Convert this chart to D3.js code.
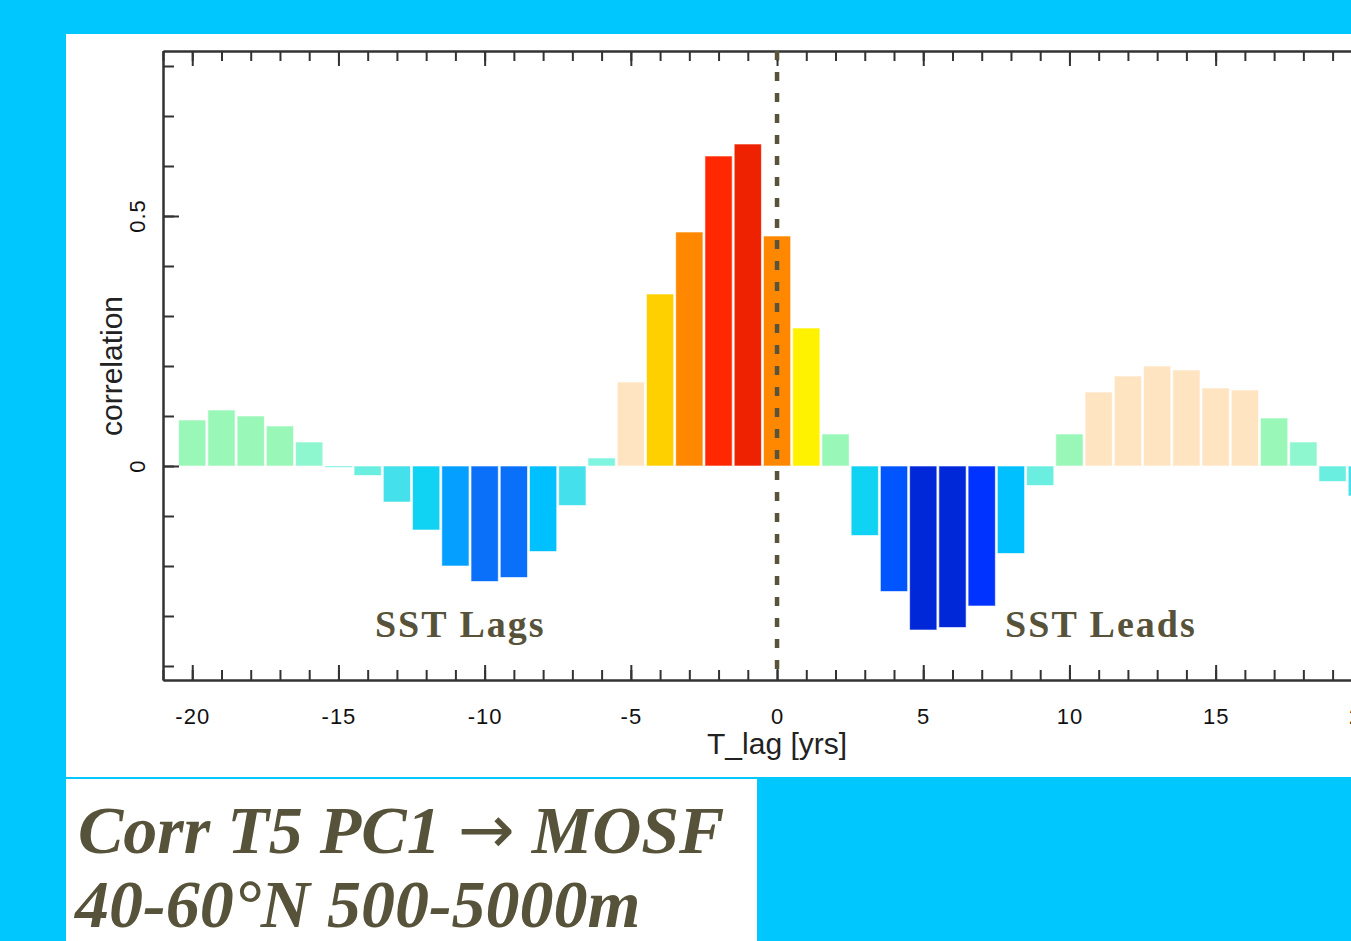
<!DOCTYPE html>
<html>
<head>
<meta charset="utf-8">
<script src="https://cdn.jsdelivr.net/npm/d3@7"></script>
<style>
  html, body { margin: 0; padding: 0; background: #00c8ff; overflow: hidden; }
  svg { display: block; }
</style>
</head>
<body>
<div id="chart"></div>
<script>
// lag in years and lagged correlation
var lags = [-20, -19, -18, -17, -16, -15, -14, -13, -12, -11,
            -10, -9, -8, -7, -6, -5, -4, -3, -2, -1,
            0, 1, 2, 3, 4, 5, 6, 7, 8, 9,
            10, 11, 12, 13, 14, 15, 16, 17, 18, 19, 20];
var corr = [0.092, 0.112, 0.100, 0.080, 0.048, -0.003, -0.019, -0.072, -0.128, -0.200,
            -0.231, -0.223, -0.171, -0.079, 0.016, 0.168, 0.344, 0.468, 0.620, 0.644,
            0.460, 0.276, 0.064, -0.139, -0.251, -0.328, -0.323, -0.280, -0.175, -0.039,
            0.064, 0.148, 0.180, 0.200, 0.192, 0.156, 0.152, 0.096, 0.048, -0.031, -0.060];

var xMajorTicks = [-20, -15, -10, -5, 0, 5, 10, 15, 20];
var xMinorTicks = [-21, -20, -19, -18, -17, -16, -15, -14, -13, -12, -11, -10, -9, -8, -7, -6, -5, -4, -3, -2, -1,
                   0, 1, 2, 3, 4, 5, 6, 7, 8, 9, 10, 11, 12, 13, 14, 15, 16, 17, 18, 19, 20, 21];
var yMajorTicks = [0, 0.5];
var yMinorTicks = [-0.4, -0.3, -0.2, -0.1, 0, 0.1, 0.2, 0.3, 0.4, 0.5, 0.6, 0.7, 0.8];

var xLabel = "T_lag [yrs]";
var yLabel = "correlation";
var notes = [{ text: "SST Lags", lag: -13.75 }, { text: "SST Leads", lag: 7.8 }];
// first title line is split round the arrow so the arrow can use a wider glyph
var titleLine1 = ["Corr T5 PC1 ", "\u2192", " MOSF"];
var titleLine2 = "40-60\u00B0N 500-5000m";

var W = 1351, H = 941;
var ink = "#333";
var olive = "#57523a";

var svg = d3.select("#chart")
       .append("svg")
       .attr("width", W)
       .attr("height", H);

// backdrop: cyan slide with white panels
svg.append("rect").attr("width", W).attr("height", H).style("fill", "#00c8ff");
svg.append("rect").attr("x", 66).attr("y", 34).attr("width", W - 66).attr("height", 743).style("fill", "#fff");
svg.append("rect").attr("x", 66).attr("y", 779).attr("width", 691).attr("height", H - 779).style("fill", "#fff");

var x = d3.scaleLinear().domain([-21, 21]).range([163, 163 + 42 * 29.24]);
var y = d3.scaleLinear().domain([-0.428, 0.83]).range([680, 51]);

// colour table, by correlation value
var colour = d3.scaleThreshold()
       .domain([-0.3, -0.27, -0.24, -0.215, -0.185, -0.15, -0.1, -0.045, 0, 0.03, 0.055, 0.13, 0.21, 0.3, 0.4, 0.6, 0.63])
       .range(["#0028d8", "#0033ff", "#0055ff", "#0a70fa", "#05a0ff", "#00c0ff", "#10d2f2", "#44e0ec",
               "#6aeee0", "#7ff5e0", "#8ef7d0", "#99f7b8", "#ffe4c2", "#fff200", "#ffd000", "#ff8800",
               "#ff2800", "#ee2200"]);

var unit = x(1) - x(0);
var data = lags.map(function (l, i) { return { lag: l, r: corr[i] }; });

svg.append("g")
       .selectAll("rect")
       .data(data)
       .enter()
       .append("rect")
       .attr("x", function (d) { return x(d.lag) - unit / 2 + 1; })
       .attr("y", function (d) { return y(Math.max(0, d.r)); })
       .attr("width", unit - 2)
       .attr("height", function (d) { return Math.abs(y(d.r) - y(0)); })
       .style("fill", function (d) { return colour(d.r); })
       .style("stroke", "rgba(255,255,255,0.6)")
       .style("stroke-width", 1);

function styleAxis(g) {
       g.selectAll(".domain").style("stroke", ink).style("stroke-width", 2);
       g.selectAll(".tick line").style("stroke", ink).style("stroke-width", 2);
}

// bottom axis
svg.append("g")
       .attr("transform", "translate(0,680)")
       .call(d3.axisBottom(x).tickValues(xMinorTicks).tickSize(-10).tickSizeOuter(0).tickFormat(""))
       .call(styleAxis);
svg.append("g")
       .attr("transform", "translate(0,680)")
       .call(d3.axisBottom(x).tickValues(xMajorTicks).tickSize(-15).tickSizeOuter(0).tickPadding(28)
              .tickFormat(function (d) { return String(d); }))
       .call(styleAxis)
       .call(function (g) {
              g.selectAll("text")
                     .style("font", "22px 'Liberation Sans'")
                     .style("fill", "#111")
                     .style("letter-spacing", "1px");
       });

// top axis (mirror)
svg.append("g")
       .attr("transform", "translate(0,51)")
       .call(d3.axisTop(x).tickValues(xMinorTicks).tickSize(-10).tickSizeOuter(0).tickFormat(""))
       .call(styleAxis);
svg.append("g")
       .attr("transform", "translate(0,51)")
       .call(d3.axisTop(x).tickValues(xMajorTicks).tickSize(-15).tickSizeOuter(0).tickFormat(""))
       .call(styleAxis);

// left axis
svg.append("g")
       .attr("transform", "translate(163,0)")
       .call(d3.axisLeft(y).tickValues(yMinorTicks).tickSize(-11).tickSizeOuter(0).tickFormat(""))
       .call(styleAxis);
svg.append("g")
       .attr("transform", "translate(163,0)")
       .call(d3.axisLeft(y).tickValues(yMajorTicks).tickSize(-16).tickSizeOuter(0).tickFormat(""))
       .call(styleAxis);

svg.append("g")
       .selectAll("text")
       .data(yMajorTicks)
       .enter()
       .append("text")
       .attr("transform", function (d) { return "translate(137," + y(d) + ") rotate(-90)"; })
       .attr("dy", "0.36em")
       .attr("text-anchor", "middle")
       .style("font", "22px 'Liberation Sans'")
       .style("letter-spacing", "1px")
       .style("fill", "#111")
       .text(function (d) { return String(d); });

// axis titles
svg.append("text")
       .attr("transform", "translate(122," + y(0.2) + ") rotate(-90)")
       .attr("text-anchor", "middle")
       .style("font", "30px 'Liberation Sans'")
       .style("fill", "#222")
       .text(yLabel);

svg.append("text")
       .attr("x", x(0))
       .attr("y", 754)
       .attr("text-anchor", "middle")
       .style("font", "30px 'Liberation Sans'")
       .style("fill", "#222")
       .text(xLabel);

// zero-lag marker
svg.append("line")
       .attr("x1", x(0)).attr("x2", x(0))
       .attr("y1", y(0.83)).attr("y2", y(-0.428))
       .style("stroke", "#58533a")
       .style("stroke-width", 4.5)
       .style("stroke-dasharray", "9 12");

// lag / lead notes
svg.append("g")
       .selectAll("text")
       .data(notes)
       .enter()
       .append("text")
       .attr("x", function (d) { return x(d.lag); })
       .attr("y", y(-0.342))
       .style("font", "bold 38px 'Liberation Serif'")
       .style("letter-spacing", "2px")
       .style("fill", olive)
       .text(function (d) { return d.text; });

// slide title
var t1 = svg.append("text")
       .attr("x", 78)
       .attr("y", 853)
       .style("font", "italic bold 68px 'Liberation Serif'")
       .style("fill", olive);
t1.selectAll("tspan")
       .data(titleLine1)
       .enter()
       .append("tspan")
       .style("font-family", function (d, i) { return i === 1 ? "'DejaVu Sans'" : null; })
       .style("font-weight", function (d, i) { return i === 1 ? "normal" : null; })
       .style("font-style", function (d, i) { return i === 1 ? "normal" : null; })
       .text(function (d) { return d; });

svg.append("text")
       .attr("x", 75)
       .attr("y", 927)
       .style("font", "italic bold 68px 'Liberation Serif'")
       .style("fill", olive)
       .text(titleLine2);
</script>
</body>
</html>
